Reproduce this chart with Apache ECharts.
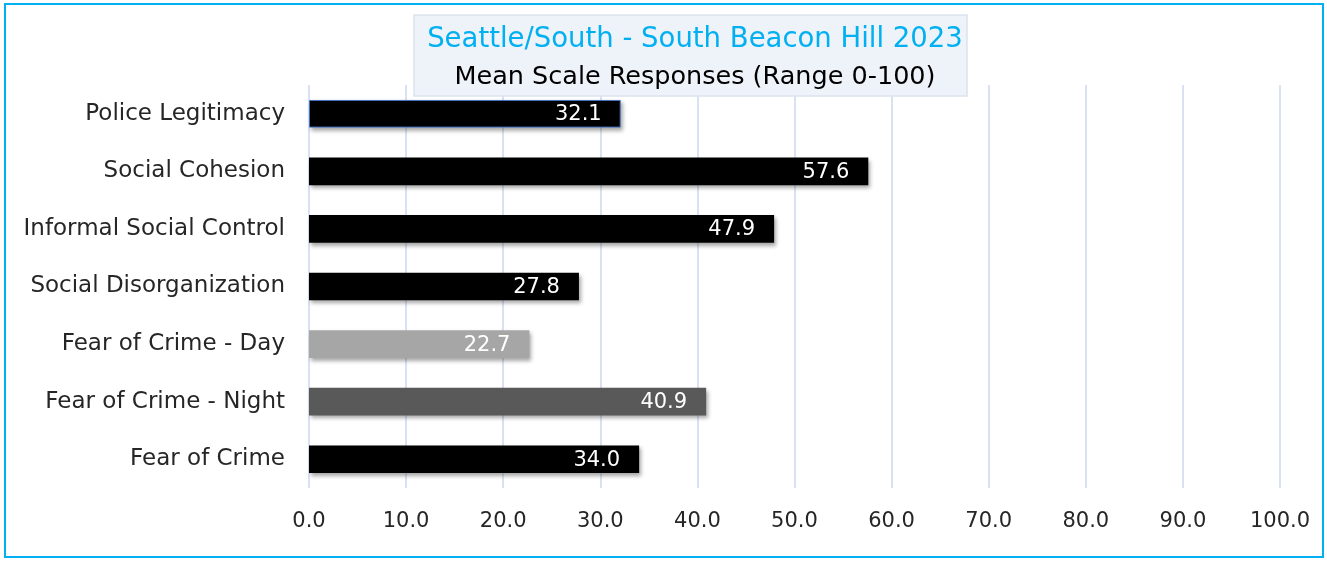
<!DOCTYPE html>
<html>
<head>
<meta charset="utf-8">
<script src="https://cdn.jsdelivr.net/npm/echarts@6/dist/echarts.min.js"></script>
<style>
html,body{margin:0;padding:0;background:#fff;}
#c{width:1327px;height:561px;}
</style>
</head>
<body>
<div id="c"></div>
<script>
const categories = ["Police Legitimacy","Social Cohesion","Informal Social Control","Social Disorganization","Fear of Crime - Day","Fear of Crime - Night","Fear of Crime"];
const values = [32.1, 57.6, 47.9, 27.8, 22.7, 40.9, 34.0];
const barColors = ["#000000","#000000","#000000","#000000","#A6A6A6","#595959","#000000"];
const titleText = "Seattle/South - South Beacon Hill 2023";
const subtitleText = "Mean Scale Responses (Range 0-100)";

const FONT = "DejaVu Sans";
const chart = echarts.init(document.getElementById('c'), null, {renderer:'canvas'});
const data = values.map((v,i)=>({
  value: v,
  itemStyle: Object.assign({color: barColors[i]}, i===0 ? {borderColor:'#4472C4', borderWidth:1} : {})
}));
chart.setOption({
  animation:false,
  backgroundColor:'#fff',
  graphic:[
    {type:'rect', shape:{x:5,y:4,width:1318,height:553}, style:{fill:'none', stroke:'#00B0F0', lineWidth:2}, z:100},
    {type:'rect', shape:{x:414,y:15,width:553,height:81}, style:{fill:'#EEF2F9', stroke:'#DCE3EE', lineWidth:1.5}, z:10}
  ],
  title:{
    text:titleText,
    subtext:subtitleText,
    left:690, top:21, textAlign:'center',
    itemGap:10,
    textStyle:{fontFamily:FONT, fontSize:27.5, fontWeight:'normal', color:'#00B0F0'},
    subtextStyle:{fontFamily:FONT, fontSize:25.5, color:'#000000'},
    z:20
  },
  grid:{left:309, right:47, top:85, bottom:73},
  xAxis:{
    type:'value', min:0, max:100, interval:10,
    axisLine:{show:false}, axisTick:{show:false},
    axisLabel:{formatter:v=>v.toFixed(1), fontFamily:FONT, fontSize:21, color:'#262626', margin:23},
    splitLine:{show:true, lineStyle:{color:'#D9E2F3', width:2}}
  },
  yAxis:{
    type:'category', data:categories, inverse:true,
    axisLine:{show:false}, axisTick:{show:false},
    axisLabel:{fontFamily:FONT, fontSize:23, color:'#262626', margin:24, padding:[3,0,0,0]}
  },
  series:[{
    type:'bar', data:data, barWidth:'48%',
    itemStyle:{shadowBlur:4, shadowOffsetX:2, shadowOffsetY:3, shadowColor:'rgba(0,0,0,0.35)'},
    label:{show:true, position:'insideRight', distance:19, offset:[0,1], formatter:p=>p.value.toFixed(1), color:'#fff', fontFamily:FONT, fontSize:21},
    z:5
  }]
});
</script>
</body>
</html>
